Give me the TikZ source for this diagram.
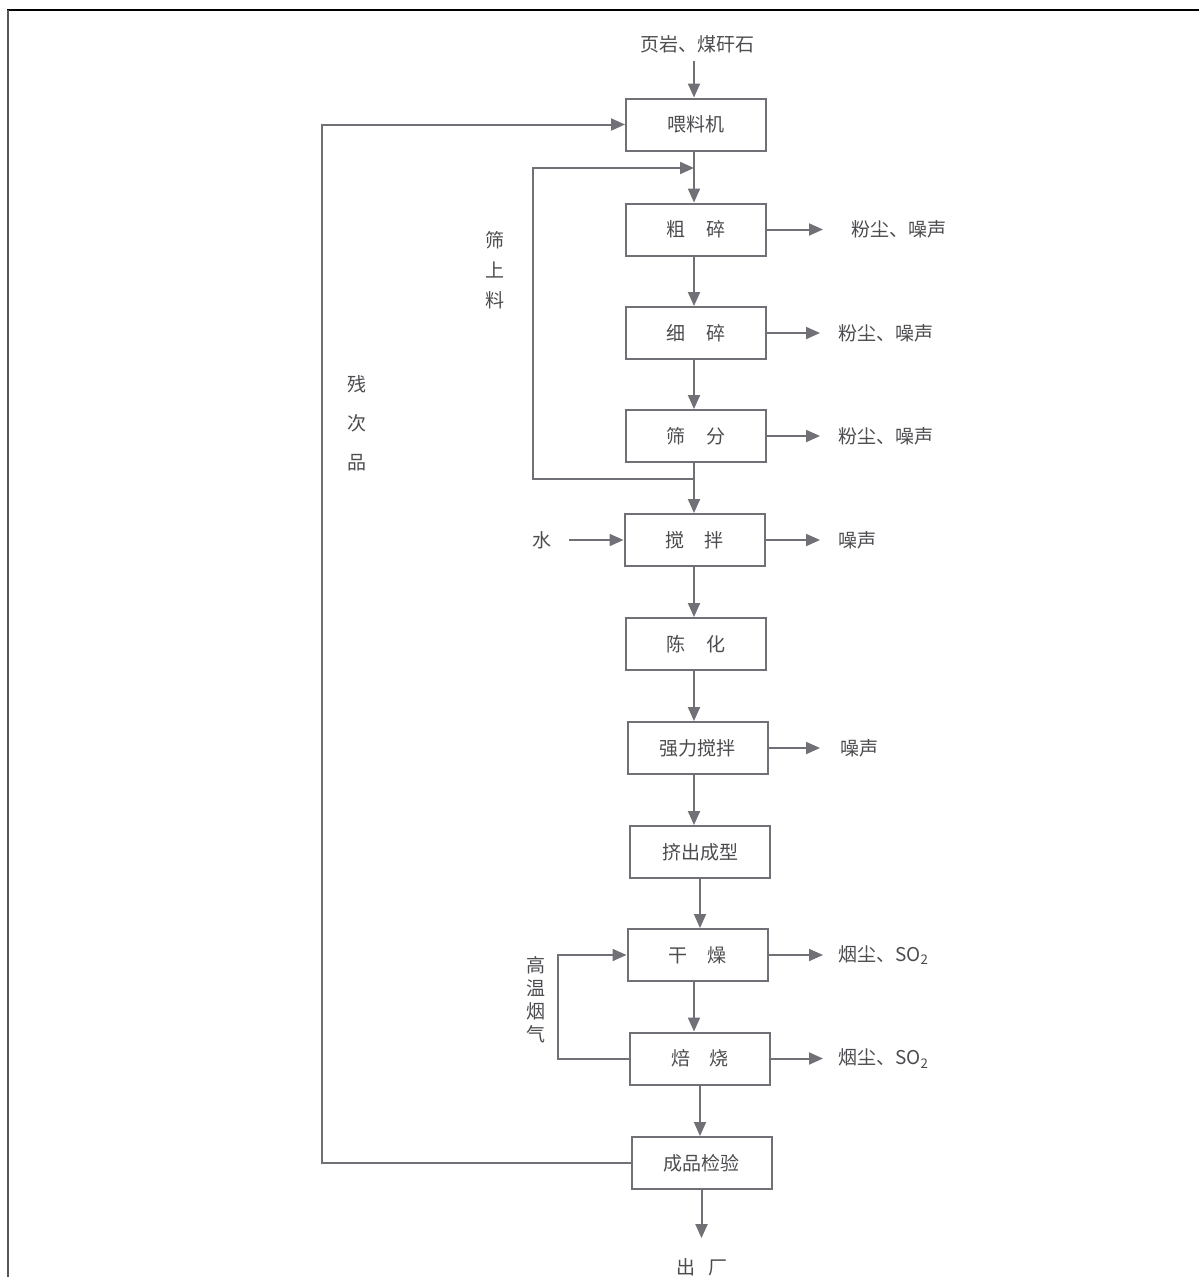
\documentclass[tikz,border=0pt]{standalone}
\usepackage{fontspec}
\setmainfont{Noto Sans CJK SC}
\usetikzlibrary{arrows.meta}
\definecolor{ln}{HTML}{707076}
\definecolor{tx}{HTML}{4C4C50}
\definecolor{frm}{HTML}{555555}
\tikzset{
  x=1pt, y=-1pt,
  stage/.style={draw=ln, line width=2pt, minimum width=140pt, minimum height=52pt,
    inner sep=0pt, text=tx, font=\fontsize{19}{19}\selectfont},
  lbl/.style={text=tx, inner sep=0pt, font=\fontsize{19}{19}\selectfont},
  vlbl/.style={text=tx, inner sep=0pt, align=center, font=\fontsize{19}{#1}\selectfont},
  wire/.style={draw=ln, line width=2pt},
  flow/.style={wire, -{Triangle[length=14pt,width=12pt]}},
}
\newcommand{\gap}{\hspace{1.1em}}
\begin{document}
\begin{tikzpicture}
\useasboundingbox (0,0) rectangle (1199,1277);
% page frame
\draw[black, line width=2pt] (7,9.5) -- (1199,9.5);
\draw[frm, line width=2.5pt] (8,9.5) -- (8,1277);

% process stages
\node[stage] (feed)   at (696,124.5) {喂料机};
\node[stage] (coarse) at (696,229.5) {粗\gap 碎};
\node[stage] (fine)   at (696,333)   {细\gap 碎};
\node[stage] (sieve)  at (696,436)   {筛\gap 分};
\node[stage] (mix)    at (694.5,540) {搅\gap 拌};
\node[stage] (age)    at (696,644)   {陈\gap 化};
\node[stage] (strong) at (697.5,748) {强力搅拌};
\node[stage] (extr)   at (700,852)   {挤出成型};
\node[stage] (dry)    at (697.5,955) {干\gap 燥};
\node[stage] (roast)  at (700,1058.5){焙\hspace{1em}烧};
\node[stage] (check)  at (701.5,1163){成品检验};

% inputs and outputs
\node[lbl] (raw)   at (697,44)    {页岩、煤矸石};
\node[lbl] (water) at (542,540)   {水};
\node[lbl] (exit)  at (702,1267)  {出\hspace{0.7em}厂};
\node[lbl, anchor=west] (e1) at (851,229.5) {粉尘、噪声};
\node[lbl, anchor=west] (e2) at (838,333)   {粉尘、噪声};
\node[lbl, anchor=west] (e3) at (838,436)   {粉尘、噪声};
\node[lbl, anchor=west] (e4) at (838,540)   {噪声};
\node[lbl, anchor=west] (e5) at (840,748)   {噪声};
\node[lbl, anchor=west] (e6) at (838,955)   {烟尘、SO\textsubscript{2}};
\node[lbl, anchor=west] (e7) at (838,1058.5){烟尘、SO\textsubscript{2}};

% loop labels
\node[vlbl=30] (lsl) at (495,270)  {筛\\上\\料};
\node[vlbl=39] (lrj) at (357,423)  {残\\次\\品};
\node[vlbl=23] (lgs) at (536,1000) {高\\温\\烟\\气};

% main chain, on a common spine
\coordinate (sp) at (694,0);
\draw[flow, shorten <=8pt] (raw.south -| sp) -- (feed.north -| sp);
\draw[flow] (feed.south -| sp)   -- (coarse.north -| sp);
\draw[flow] (coarse.south -| sp) -- (fine.north -| sp);
\draw[flow] (fine.south -| sp)   -- (sieve.north -| sp);
\draw[flow] (sieve.south -| sp)  -- (mix.north -| sp);
\draw[flow] (mix.south -| sp)    -- (age.north -| sp);
\draw[flow] (age.south -| sp)    -- (strong.north -| sp);
\draw[flow] (strong.south -| sp) -- (extr.north -| sp);
\draw[flow] (extr.south)   -- (extr.south |- dry.north);
\draw[flow] (dry.south -| sp)    -- (roast.north -| sp);
\draw[flow] (roast.south)  -- (roast.south |- check.north);
\draw[flow, shorten >=20pt] (check.south) -- (check.south |- exit.north);
\draw[flow, shorten <=17pt] (water.east) -- (mix.west);

% emissions
\draw[flow, shorten >=28pt] (coarse.east) -- (coarse.east -| e1.west);
\draw[flow, shorten >=18pt] (fine.east)   -- (fine.east -| e2.west);
\draw[flow, shorten >=18pt] (sieve.east)  -- (sieve.east -| e3.west);
\draw[flow, shorten >=18pt] (mix.east)    -- (mix.east -| e4.west);
\draw[flow, shorten >=20pt] (strong.east) -- (strong.east -| e5.west);
\draw[flow, shorten >=15pt] (dry.east)    -- (dry.east -| e6.west);
\draw[flow, shorten >=15pt] (roast.east)  -- (roast.east -| e7.west);

% oversize return from screening
\coordinate (slb) at (533,479);
\coordinate (slt) at (533,168);
\draw[flow] (slb -| sp) -- (slb) -- (slt) -- (slt -| sp);

% rejects back to the feeder
\coordinate (rjx) at (322,0);
\draw[flow] (check.west) -- (check.west -| rjx) -- (feed.west -| rjx) -- (feed.west);

% hot flue gas from kiln to dryer
\coordinate (gsx) at (558,0);
\draw[flow] (roast.west) -- (roast.west -| gsx) -- (dry.west -| gsx) -- (dry.west);
\end{tikzpicture}
\end{document}
